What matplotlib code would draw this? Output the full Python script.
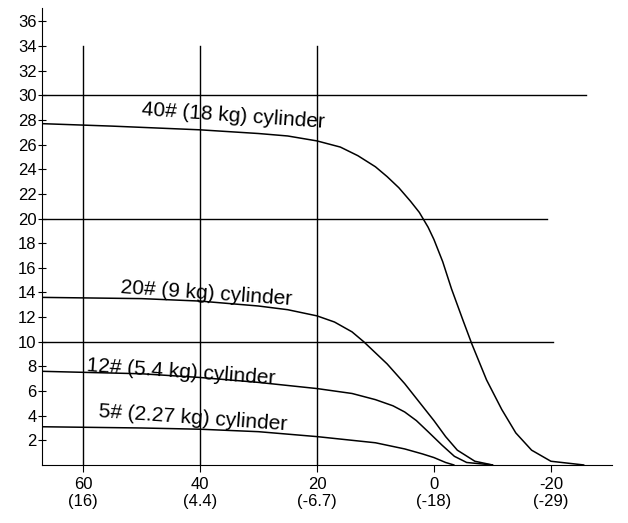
import matplotlib
matplotlib.use("Agg")
import matplotlib.pyplot as plt

plt.rcParams['font.family'] = ['Liberation Sans', 'DejaVu Sans']

x40 = [67, 55, 40, 30, 25, 20, 16, 13, 10, 8, 6, 4, 2.5, 1, 0, -1.5, -3, -5, -6.5, -9, -11.6, -14, -16.7, -20, -25.6]
y40 = [27.7, 27.5, 27.2, 26.9, 26.7, 26.3, 25.8, 25.1, 24.2, 23.4, 22.5, 21.4, 20.5, 19.3, 18.3, 16.5, 14.3, 11.7, 9.8, 6.9, 4.5, 2.6, 1.2, 0.3, 0.0]
x20 = [67, 50, 40, 30, 25, 20, 17, 14, 12, 8, 5, 2, 0, -2, -4, -7, -10]
y20 = [13.6, 13.5, 13.3, 12.9, 12.6, 12.1, 11.6, 10.8, 10.0, 8.2, 6.6, 4.8, 3.6, 2.3, 1.2, 0.3, 0.0]
x12 = [67, 50, 40, 30, 20, 14, 10, 7, 5, 3, 1, -1.4, -3.5, -5.6, -10]
y12 = [7.6, 7.4, 7.1, 6.7, 6.2, 5.8, 5.3, 4.8, 4.3, 3.6, 2.7, 1.6, 0.7, 0.2, 0.0]
x5 = [67, 50, 40, 30, 20, 10, 5, 2, 0, -2, -3.4]
y5 = [3.1, 3.0, 2.9, 2.7, 2.3, 1.8, 1.3, 0.9, 0.6, 0.2, 0.0]

xticks = [60, 40, 20, 0, -20]
xlabels = ["60\n(16)", "40\n(4.4)", "20\n(-6.7)", "0\n(-18)", "-20\n(-29)"]
yticks = list(range(2, 37, 2))

labels = ["40# (18 kg) cylinder", "20# (9 kg) cylinder", "12# (5.4 kg) cylinder", "5# (2.27 kg) cylinder"]
label_pos = [(50, 28.3), (53.6, 13.9), (59.5, 7.5), (57.4, 3.8)]

fig = plt.figure(figsize=(6.28, 5.23), dpi=100)
ax = fig.add_axes([0.067, 0.111, 0.908, 0.874])
ax.set_xlim(67, -30.5)
ax.set_ylim(0, 37.1)

for xs, ys in [(x40, y40), (x20, y20), (x12, y12), (x5, y5)]:
    ax.plot(xs, ys, color='black', lw=1.1)

ax.plot([67, -26], [30, 30], color='black', lw=1)
ax.plot([67, -19.3], [20, 20], color='black', lw=1)
ax.plot([67, -20.3], [10, 10], color='black', lw=1)
for xv in [60, 40, 20]:
    ax.plot([xv, xv], [0, 34], color='black', lw=1)

for t, (lx, ly) in zip(labels, label_pos):
    ax.text(lx, ly, t, fontsize=15, rotation=-4, ha='left', va='center')

ax.spines['top'].set_visible(False)
ax.spines['right'].set_visible(False)
ax.set_xticks(xticks)
ax.set_xticklabels(xlabels, fontsize=12)
ax.set_yticks(yticks)
ax.set_yticklabels([str(v) for v in yticks], fontsize=12)
ax.tick_params(axis='y', direction='inout', length=6, pad=1)
ax.tick_params(axis='x', direction='out', length=5)

fig.savefig("out.png", dpi=100)
